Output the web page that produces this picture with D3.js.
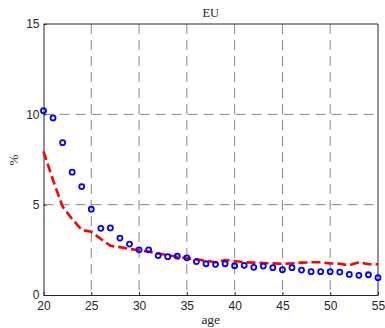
<html>
<head>
<script src="https://d3js.org/d3.v7.min.js"></script>
<style>
  body { margin: 0; background: #fff; }
  .tick text { font-family: "Liberation Sans", Arial, sans-serif; font-size: 12px; fill: #262626; }
</style>
</head>
<body>
<script>
// ages on the x axis
var ages = d3.range(20, 56);
// observed share (blue circles), %
var observed = [10.2, 9.8, 8.43, 6.8, 6.0, 4.75, 3.69, 3.71, 3.15, 2.82,
  2.5, 2.5, 2.18, 2.12, 2.15, 2.06, 1.85, 1.73, 1.7, 1.73,
  1.62, 1.64, 1.53, 1.6, 1.51, 1.4, 1.51, 1.38, 1.29, 1.29,
  1.29, 1.27, 1.14, 1.09, 1.12, 0.96];
// model share (red dashed line), %
var model = [7.95, 6.35, 4.89, 4.2, 3.6, 3.5, 3.1, 2.72, 2.65, 2.55,
  2.48, 2.4, 2.3, 2.2, 2.12, 2.03, 1.97, 1.9, 1.81, 1.94,
  1.88, 1.81, 1.79, 1.77, 1.75, 1.73, 1.75, 1.79, 1.81, 1.81,
  1.75, 1.73, 1.64, 1.81, 1.7, 1.7];
var xTicks = [20, 25, 30, 35, 40, 45, 50, 55];
var yTicks = [0, 5, 10, 15];

var W = 385, H = 328;
var pL = 43.5, pR = 378, pT = 24, pB = 295;

var svg = d3.select("body").append("svg").attr("width", W).attr("height", H);

var x = d3.scaleLinear().domain([20, 55]).range([pL, pR]);
var y = d3.scaleLinear().domain([0, 15]).range([pB, pT]);

// grid
svg.append("g").selectAll("line").data(xTicks.slice(1, -1)).enter().append("line")
  .attr("x1", d => x(d)).attr("x2", d => x(d)).attr("y1", pT).attr("y2", pB)
  .attr("stroke", "#888").attr("stroke-width", 1).attr("stroke-dasharray", "10,6");
svg.append("g").selectAll("line").data(yTicks.slice(1, -1)).enter().append("line")
  .attr("y1", d => y(d)).attr("y2", d => y(d)).attr("x1", pL).attr("x2", pR)
  .attr("stroke", "#888").attr("stroke-width", 1).attr("stroke-dasharray", "10,6");

// axes
var xAxis = svg.append("g").attr("transform", "translate(0," + pB + ")")
  .call(d3.axisBottom(x).tickValues(xTicks).tickSizeInner(-3).tickSizeOuter(0).tickPadding(6));
var yAxis = svg.append("g").attr("transform", "translate(" + pL + ",0)")
  .call(d3.axisLeft(y).tickValues(yTicks).tickSizeInner(-3).tickSizeOuter(0).tickPadding(4));
[xAxis, yAxis].forEach(function (g) {
  g.select(".domain").attr("stroke", "#262626");
  g.selectAll(".tick line").attr("stroke", "#262626");
});

// box top/right
svg.append("line").attr("x1", pL).attr("x2", pR).attr("y1", pT).attr("y2", pT).attr("stroke", "#262626");
svg.append("line").attr("x1", pR).attr("x2", pR).attr("y1", pT).attr("y2", pB).attr("stroke", "#262626");

// model line
var line = d3.line().x((d, i) => x(ages[i])).y(d => y(d));
svg.append("path").datum(model).attr("d", line)
  .attr("fill", "none").attr("stroke", "#ff0000").attr("stroke-width", 2.6)
  .attr("stroke-dasharray", "9,4");

// observed circles
svg.append("g").selectAll("circle").data(observed).enter().append("circle")
  .attr("cx", (d, i) => x(ages[i])).attr("cy", d => y(d)).attr("r", 2.5)
  .attr("fill", "none").attr("stroke", "#0000ff").attr("stroke-width", 1.8);

// titles
svg.append("text").attr("x", (pL + pR) / 2).attr("y", 16.5).attr("text-anchor", "middle")
  .attr("font-family", "'Liberation Serif', serif").attr("font-size", 12.5).attr("fill", "#262626")
  .text("EU");
svg.append("text").attr("x", (pL + pR) / 2).attr("y", 324).attr("text-anchor", "middle")
  .attr("font-family", "'Liberation Serif', serif").attr("font-size", 13.5).attr("fill", "#262626")
  .text("age");
svg.append("text").attr("transform", "translate(18,160) rotate(-90)").attr("text-anchor", "middle")
  .attr("font-family", "'Liberation Serif', serif").attr("font-size", 13).attr("fill", "#262626")
  .text("%");
</script>
</body>
</html>
